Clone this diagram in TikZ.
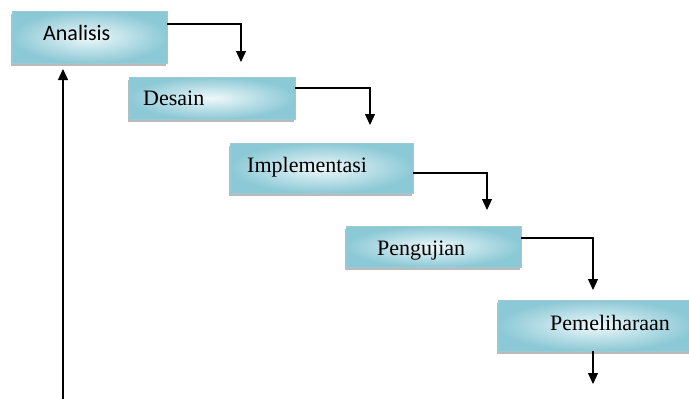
\documentclass[tikz,border=0pt]{standalone}
\usepackage{fontspec}
\setmainfont{Liberation Serif}
\newfontfamily\calfont{Carlito}
\usetikzlibrary{arrows.meta,shadows,calc}
\definecolor{boxouter}{HTML}{8CC9D6}
\definecolor{boxinner}{HTML}{EEF8FA}
\definecolor{boxedge}{HTML}{9FC9D2}
\tikzset{
  stagebox/.style={draw=boxedge, line width=0.6pt, inner color=boxinner, outer color=boxouter,
    drop shadow={shadow xshift=-1.5pt, shadow yshift=-2.5pt, opacity=0.45, fill=black!60}},
  lbl/.style={anchor=base west, inner sep=0pt, font=\fontsize{22}{26}\selectfont},
  arr/.style={line width=1.2pt, -{Triangle[width=10pt,length=11pt]}}
}
\begin{document}
\begin{tikzpicture}[x=1pt,y=-1pt]
\useasboundingbox (0,0) rectangle (689,399);
% boxes
\path[stagebox] (12,11) rectangle (167,63);
\node[inner sep=0pt, minimum width=155pt, minimum height=52pt] (A) at (89.5,37) {};
\path[stagebox] (129,77) rectangle (295,119);
\node[inner sep=0pt, minimum width=166pt, minimum height=42pt] (D) at (212,98) {};
\path[stagebox] (230,143) rectangle (413,193);
\node[inner sep=0pt, minimum width=183pt, minimum height=50pt] (I) at (321.5,168) {};
\path[stagebox] (346,226) rectangle (521,267);
\node[inner sep=0pt, minimum width=175pt, minimum height=41pt] (P) at (433.5,246.5) {};
\path[stagebox] (498,300) rectangle (694,351);
\node[inner sep=0pt, minimum width=196pt, minimum height=51pt] (M) at (596,325.5) {};
% labels
\node[lbl, font=\calfont\fontsize{22}{26}\selectfont] (tA) at (43,40) {Analisis};
\node[lbl] (tD) at (143,105) {Desain};
\node[lbl] (tI) at (247,172) {Implementasi};
\node[lbl] (tP) at (377,255) {Pengujian};
\node[lbl] (tM) at (550,330) {Pemeliharaan};
% arrow end points
\coordinate (e1) at (241,62);
\coordinate (e2) at (370,125);
\coordinate (e3) at (487,210);
\coordinate (e4) at (593,290);
\coordinate (e5) at (593,384);
\coordinate (s0) at (63,399);
\coordinate (e0) at (63,69);
\coordinate (h1) at (0,24);
\coordinate (h2) at (0,88);
\coordinate (h3) at (0,173);
\coordinate (h4) at (0,238);
% connectors
\draw[arr] (A.east |- h1) -| (e1);
\draw[arr] (D.east |- h2) -| (e2);
\draw[arr] (I.east |- h3) -| (e3);
\draw[arr] (P.east |- h4) -| (e4);
\draw[arr] (M.south -| e5) -- (e5);
\draw[arr] (s0) -- (e0);
\end{tikzpicture}
\end{document}
